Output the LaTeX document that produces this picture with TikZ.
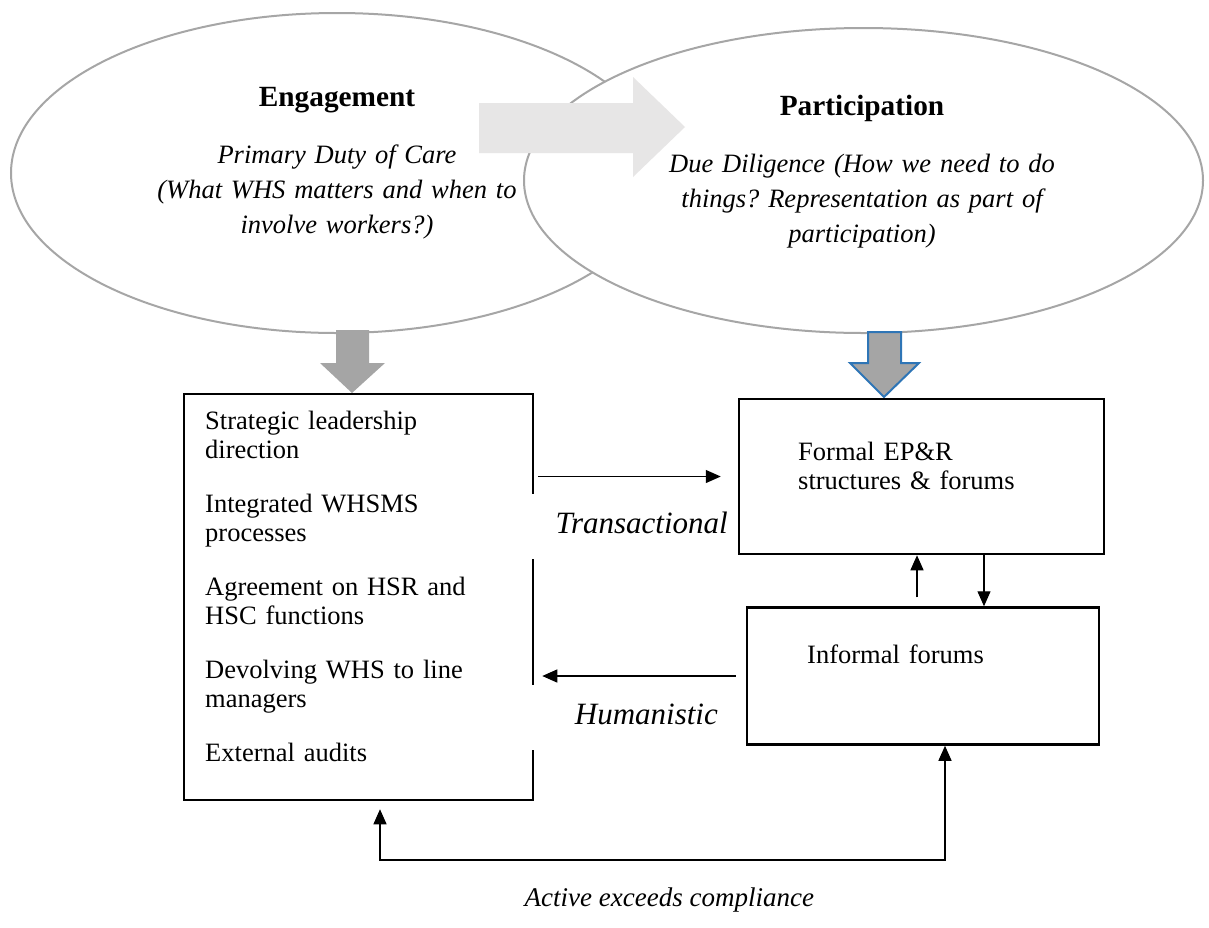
\documentclass[tikz,border=0pt]{standalone}
\usepackage{fontspec}
\setmainfont{Liberation Serif}
\usepackage{tikz}
\usetikzlibrary{arrows.meta,positioning,shapes.geometric}
\frenchspacing

\definecolor{ovalgray}{HTML}{A6A6A6}
\definecolor{pushgray}{HTML}{E7E6E6}
\definecolor{downgray}{HTML}{A5A5A5}
\definecolor{edgeblue}{HTML}{2E75B6}

\begin{document}
\begin{tikzpicture}[x=1pt,y=-1pt,>={Triangle[length=15pt,width=13pt]},
        oval/.style={ellipse,draw=ovalgray,line width=2pt,fill=white,inner sep=0pt},
        ovaltitle/.style={font=\fontsize{29.3}{33}\selectfont\bfseries,inner sep=0pt},
        ovaltext/.style={font=\fontsize{26.5}{35}\selectfont\itshape,text width=420pt,align=center,inner sep=0pt},
        box/.style={rectangle,draw,line width=2.5pt,inner sep=0pt},
        boxtext/.style={font=\fontsize{26.5}{29}\selectfont,text width=320pt,align=left,inner sep=0pt},
        conn/.style={line width=1.3pt},
        side/.style={fill=white,font=\fontsize{31}{36}\selectfont\itshape,text width=197pt,align=right,
            inner xsep=2pt,inner ysep=0pt,minimum height=65pt,text height=22pt,text depth=8pt}]
        \useasboundingbox (0,0) rectangle (1209,927);

        % the two ovals
        \node[oval,minimum width=652pt,minimum height=320pt] (eng)  at (337,173)   {};
        \node[oval,minimum width=679pt,minimum height=305pt] (part) at (863.5,180.5) {};
        \fill[pushgray] (479,103) -- (633,103) -- (633,77) -- (685,127) -- (633,177) -- (633,153) -- (479,153) -- cycle;

        \node[ovaltitle,anchor=base] (engtitle)  at (337,106) {Engagement};
        \node[ovaltext,anchor=base]  (engtext)   at (337,163) {Primary Duty of Care\\(What WHS matters and when to\\involve workers?)};
        \node[ovaltitle,anchor=base] (parttitle) at (862,115) {Participation};
        \node[ovaltext,anchor=base]  (parttext)  at (862,172) {Due Diligence (How we need to do\\things? Representation as part of\\participation)};

        \fill[downgray] (336,330) -- (369,330) -- (369,363) -- (385,363) -- (352,393) -- (320,363) -- (336,363) -- cycle;
        \filldraw[fill=downgray,draw=edgeblue,line width=2pt] (868,332) -- (901,332) -- (901,363) -- (919,363) -- (884,397) -- (850,363) -- (868,363) -- cycle;

        % boxes
        \node[box,minimum width=349pt,minimum height=406pt] (lbox)   at (358.5,597) {};
        \node[box,minimum width=365pt,minimum height=155pt] (formal) at (921.5,476.5) {};
        \node[box,minimum width=352pt,minimum height=137pt] (informal) [below=51pt of formal,xshift=1.5pt] {};

        \node[boxtext,anchor=base west] (lboxtext) at (205,429) {Strategic leadership\\direction\\[25pt]
            Integrated WHSMS\\processes\\[25pt]Agreement on HSR and\\HSC functions\\[25pt]
            Devolving WHS to line\\managers\\[25pt]External audits};
        \node[boxtext,anchor=base west] (formaltext)   at (798,460) {Formal EP\&R\\structures \& forums};
        \node[boxtext,anchor=base west] (informaltext) at (807,663) {Informal forums};

        % connectors
        \draw[conn,->,shorten <=4pt,shorten >=17pt] (formal.west -| lbox.east) -- (formal.west);
        \draw[conn,->,shorten <=10pt,shorten >=8pt] (informal.west) -- (informal.west -| lbox.east);
        \draw[conn,->,shorten <=9pt] ([xshift=-6pt]informal.north) -- ([xshift=-6pt]informal.north |- formal.south);
        \draw[conn,->] ([xshift=61pt]informal.north |- formal.south) -- ([xshift=61pt]informal.north);
        \coordinate (loopr) at (945,860);
        \draw[conn,<->,shorten <=8pt] ([xshift=21.5pt]lbox.south) |- (loopr) -- ([xshift=22pt]informal.south);

        \node[side,anchor=east] (trans) at (730,526.5) {Transactional};
        \node[side,anchor=east] (human) at (720,717.5) {Humanistic};
        \node[font=\fontsize{27}{32}\selectfont\itshape,inner sep=0pt,below=28pt of loopr -| trans.center,xshift=40pt] (active) {Active exceeds compliance};
    \end{tikzpicture}
\end{document}
